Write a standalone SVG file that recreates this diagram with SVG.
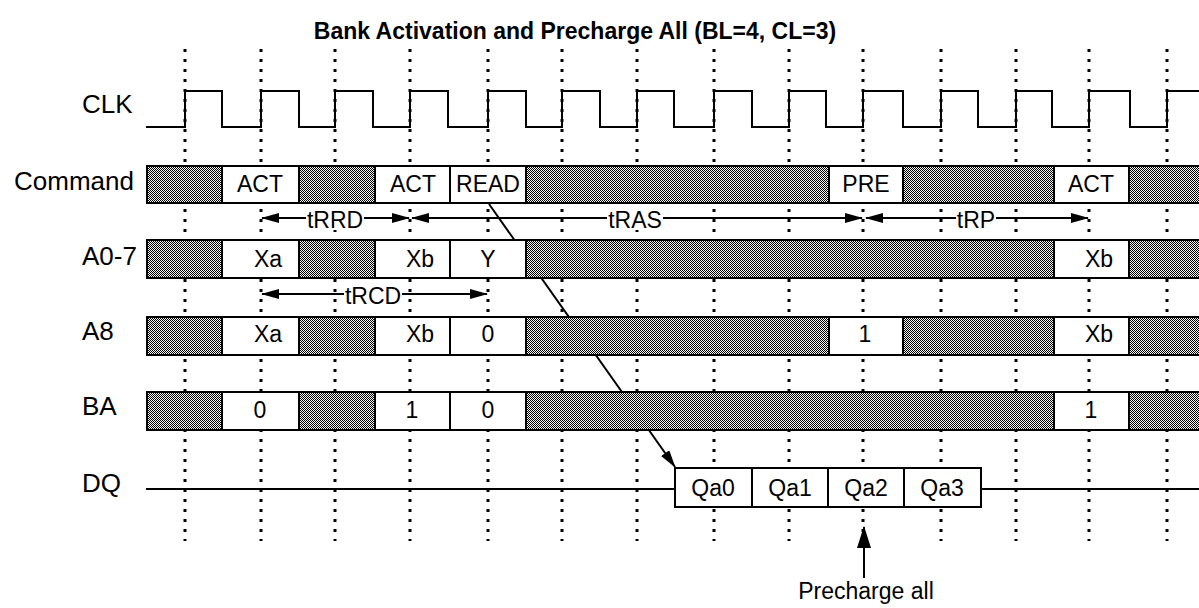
<svg xmlns="http://www.w3.org/2000/svg" width="1199" height="608" viewBox="0 0 1199 608">
<style>
text{font-family:"Liberation Sans",Arial,sans-serif;fill:#000}
.title{font-size:23px;font-weight:bold;text-anchor:middle}
.lbl{font-size:26px}
.val{font-size:23px;text-anchor:middle}
.grid line{stroke:#000;stroke-width:3;stroke-dasharray:3 7}
.sig{fill:none;stroke:#000;stroke-width:2}
.bus{fill:url(#hatch);stroke:#000;stroke-width:2}
.box{fill:#fff;stroke:#000;stroke-width:2}
.arr{stroke:#000;stroke-width:2;fill:none}
.bg{fill:#fff}
</style>
<defs>
<pattern id="hatch" width="2" height="2" patternUnits="userSpaceOnUse">
<rect width="2" height="2" fill="#f4f4f4"/>
<rect width="1" height="1" fill="#000"/>
<rect x="1" y="1" width="1" height="1" fill="#000"/>
</pattern>
<marker id="ah" markerWidth="18" markerHeight="10" refX="17" refY="5" orient="auto-start-reverse" markerUnits="userSpaceOnUse">
<path d="M0,0 L18,5 L0,10 z" fill="#000"/>
</marker>
<marker id="ahb" markerWidth="22" markerHeight="14" refX="21" refY="7" orient="auto" markerUnits="userSpaceOnUse">
<path d="M0,0 L22,7 L0,14 z" fill="#000"/>
</marker>
</defs>
<rect width="1199" height="608" fill="#fff"/>

<g id="title"><text class="title" x="575" y="39">Bank Activation and Precharge All (BL=4, CL=3)</text></g>

<g id="grid" class="grid">
<line x1="185" y1="49" x2="185" y2="541"/>
<line x1="261" y1="49" x2="261" y2="541"/>
<line x1="335" y1="49" x2="335" y2="541"/>
<line x1="410" y1="49" x2="410" y2="541"/>
<line x1="488" y1="49" x2="488" y2="541"/>
<line x1="562" y1="49" x2="562" y2="541"/>
<line x1="637" y1="49" x2="637" y2="541"/>
<line x1="714" y1="49" x2="714" y2="541"/>
<line x1="789" y1="49" x2="789" y2="541"/>
<line x1="863" y1="49" x2="863" y2="541"/>
<line x1="941" y1="49" x2="941" y2="541"/>
<line x1="1016" y1="49" x2="1016" y2="541"/>
<line x1="1089" y1="49" x2="1089" y2="541"/>
<line x1="1167" y1="49" x2="1167" y2="541"/>
</g>

<g id="connectors">
<line class="arr" x1="489" y1="204" x2="675" y2="467" marker-end="url(#ah)"/>
<line class="arr" x1="262" y1="218" x2="409" y2="218" marker-start="url(#ah)" marker-end="url(#ah)"/>
<line class="arr" x1="412" y1="218" x2="862" y2="218" marker-start="url(#ah)" marker-end="url(#ah)"/>
<line class="arr" x1="866" y1="218" x2="1088" y2="218" marker-start="url(#ah)" marker-end="url(#ah)"/>
<line class="arr" x1="262" y1="294" x2="487" y2="294" marker-start="url(#ah)" marker-end="url(#ah)"/>
<rect class="bg" x="306" y="208" width="58" height="22"/>
<text class="val" x="335" y="228">tRRD</text>
<rect class="bg" x="607" y="208" width="56" height="22"/>
<text class="val" x="635" y="228">tRAS</text>
<rect class="bg" x="956" y="208" width="40" height="22"/>
<text class="val" x="976" y="228">tRP</text>
<rect class="bg" x="344" y="284" width="58" height="22"/>
<text class="val" x="373" y="304">tRCD</text>
<line class="arr" x1="864" y1="578" x2="864" y2="527" marker-end="url(#ahb)"/>
</g>

<g id="labels">
<text class="lbl" x="82" y="113">CLK</text>
<text class="lbl" x="134" y="190" text-anchor="end">Command</text>
<text class="lbl" x="82" y="265">A0-7</text>
<text class="lbl" x="82" y="340">A8</text>
<text class="lbl" x="82" y="415">BA</text>
<text class="lbl" x="82" y="492">DQ</text>
</g>

<g id="clk">
<path class="sig" d="M146,127 H185 V91 H222 V127 H261 V91 H299 V127 H335 V91 H373 V127 H410 V91 H448 V127 H488 V91 H526 V127 H562 V91 H600 V127 H637 V91 H674 V127 H714 V91 H752 V127 H789 V91 H826 V127 H863 V91 H903 V127 H941 V91 H978 V127 H1016 V91 H1052 V127 H1089 V91 H1130 V127 H1167 V91 H1205"/>
</g>

<g id="command">
<rect class="bus" x="147" y="166" width="1060" height="37"/>
<rect class="box" x="222" y="166" width="77" height="37"/>
<rect class="box" x="375" y="166" width="75" height="37"/>
<rect class="box" x="450" y="166" width="76" height="37"/>
<rect class="box" x="829" y="166" width="74" height="37"/>
<rect class="box" x="1054" y="166" width="75" height="37"/>
<text class="val" x="260" y="192">ACT</text>
<text class="val" x="413" y="192">ACT</text>
<text class="val" x="488" y="192">READ</text>
<text class="val" x="866" y="192">PRE</text>
<text class="val" x="1091" y="192">ACT</text>
</g>

<g id="a0-7">
<rect class="bus" x="147" y="240" width="1060" height="38"/>
<rect class="box" x="222" y="240" width="77" height="38"/>
<rect class="box" x="375" y="240" width="75" height="38"/>
<rect class="box" x="450" y="240" width="76" height="38"/>
<rect class="box" x="1054" y="240" width="75" height="38"/>
<text class="val" x="268" y="267">Xa</text>
<text class="val" x="420" y="267">Xb</text>
<text class="val" x="488" y="267">Y</text>
<text class="val" x="1099" y="267">Xb</text>
</g>

<g id="a8">
<rect class="bus" x="147" y="317" width="1060" height="38"/>
<rect class="box" x="222" y="317" width="77" height="38"/>
<rect class="box" x="375" y="317" width="75" height="38"/>
<rect class="box" x="450" y="317" width="76" height="38"/>
<rect class="box" x="829" y="317" width="74" height="38"/>
<rect class="box" x="1054" y="317" width="75" height="38"/>
<text class="val" x="268" y="342">Xa</text>
<text class="val" x="420" y="342">Xb</text>
<text class="val" x="488" y="342">0</text>
<text class="val" x="865" y="342">1</text>
<text class="val" x="1099" y="342">Xb</text>
</g>

<g id="ba">
<rect class="bus" x="147" y="392" width="1060" height="38"/>
<rect class="box" x="222" y="392" width="77" height="38"/>
<rect class="box" x="375" y="392" width="75" height="38"/>
<rect class="box" x="450" y="392" width="76" height="38"/>
<rect class="box" x="1054" y="392" width="75" height="38"/>
<text class="val" x="260" y="418">0</text>
<text class="val" x="412" y="418">1</text>
<text class="val" x="488" y="418">0</text>
<text class="val" x="1091" y="418">1</text>
</g>

<g id="dq">
<line class="sig" x1="146" y1="489" x2="1205" y2="489"/>
<rect class="box" x="675" y="468" width="77" height="39"/>
<rect class="box" x="752" y="468" width="76" height="39"/>
<rect class="box" x="828" y="468" width="76" height="39"/>
<rect class="box" x="904" y="468" width="77" height="39"/>
<text class="val" x="713" y="496">Qa0</text>
<text class="val" x="790" y="496">Qa1</text>
<text class="val" x="866" y="496">Qa2</text>
<text class="val" x="942" y="496">Qa3</text>
</g>

<g id="note"><text class="val" x="866" y="599">Precharge all</text></g>
</svg>
